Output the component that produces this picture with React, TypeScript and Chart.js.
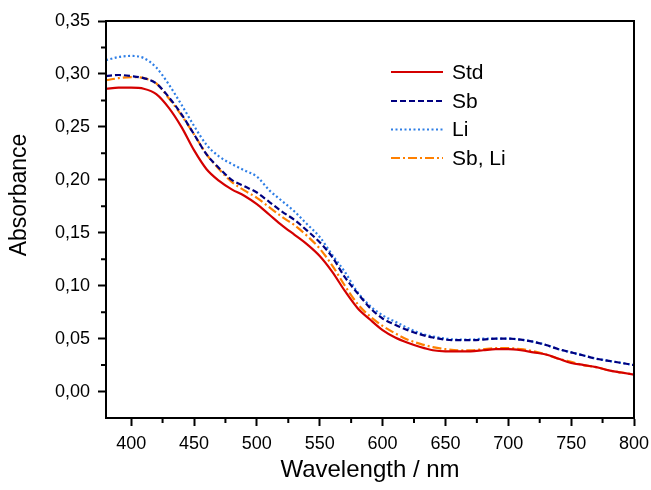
import React, { useEffect, useRef } from "react";
import { Chart, registerables } from "chart.js";

Chart.register(...registerables);

const wavelengths = [380, 390, 400, 410, 420, 430, 440, 450, 460, 470, 480, 490, 500, 510, 520, 530, 540, 550, 560, 570, 580, 590, 600, 610, 620, 630, 640, 650, 660, 670, 680, 690, 700, 710, 720, 730, 740, 750, 760, 770, 780, 790, 800];

const stdValues = [0.286, 0.287, 0.287, 0.286, 0.281, 0.268, 0.250, 0.228, 0.210, 0.199, 0.191, 0.185, 0.177, 0.167, 0.157, 0.148, 0.139, 0.128, 0.113, 0.095, 0.079, 0.068, 0.058, 0.051, 0.046, 0.042, 0.039, 0.038, 0.038, 0.038, 0.039, 0.040, 0.040, 0.039, 0.037, 0.035, 0.031, 0.027, 0.025, 0.023, 0.020, 0.018, 0.016];
const sbValues = [0.298, 0.299, 0.298, 0.296, 0.291, 0.278, 0.262, 0.243, 0.224, 0.211, 0.200, 0.194, 0.188, 0.179, 0.170, 0.162, 0.152, 0.141, 0.127, 0.108, 0.093, 0.079, 0.069, 0.063, 0.058, 0.054, 0.051, 0.049, 0.0485, 0.0485, 0.049, 0.050, 0.050, 0.049, 0.047, 0.044, 0.040, 0.037, 0.034, 0.031, 0.029, 0.027, 0.025];
const liValues = [0.313, 0.316, 0.317, 0.315, 0.306, 0.290, 0.271, 0.251, 0.233, 0.222, 0.215, 0.209, 0.203, 0.190, 0.180, 0.170, 0.158, 0.146, 0.129, 0.113, 0.094, 0.081, 0.072, 0.066, 0.060, 0.055, 0.052, 0.050, 0.049, 0.049, 0.050, 0.050, 0.050, 0.049, 0.047, 0.044, 0.040, 0.037, 0.034, 0.031, 0.029, 0.027, 0.025];
const sbLiValues = [0.294, 0.296, 0.297, 0.296, 0.291, 0.277, 0.261, 0.243, 0.224, 0.210, 0.198, 0.190, 0.183, 0.174, 0.165, 0.157, 0.147, 0.135, 0.119, 0.100, 0.083, 0.071, 0.062, 0.055, 0.049, 0.045, 0.042, 0.040, 0.039, 0.039, 0.040, 0.041, 0.041, 0.040, 0.038, 0.035, 0.031, 0.028, 0.025, 0.023, 0.020, 0.018, 0.016];

const seriesNames = ["Std", "Sb", "Li", "Sb, Li"];
const xTicks = [400, 450, 500, 550, 600, 650, 700, 750, 800];
const xMinorTicks = [425, 475, 525, 575, 625, 675, 725, 775];
const yTicks = [0.0, 0.05, 0.1, 0.15, 0.2, 0.25, 0.3, 0.35];
const yMinorTicks = [0.025, 0.075, 0.125, 0.175, 0.225, 0.275, 0.325];
const xTitle = "Wavelength / nm";
const yTitle = "Absorbance";

const FONT = "'Liberation Sans', Arial, sans-serif";

const colors = ["#d40000", "#000080", "#2f7fe6", "#ff8000"];
const dashes = [[], [6, 3], [2, 2.5], [9, 3, 2, 3]];

const framePlugin = {
  id: "frameAndLegend",
  afterDraw(chart: any) {
    const ctx = chart.ctx;
    const { left, right, top, bottom } = chart.chartArea;
    const xs = chart.scales.x;
    const ys = chart.scales.y;
    ctx.save();
    ctx.strokeStyle = "#000";
    ctx.lineWidth = 2;
    ctx.setLineDash([]);
    ctx.strokeRect(left, top, right - left, bottom - top);
    // minor ticks
    ctx.beginPath();
    xMinorTicks.forEach((v) => {
      const px = xs.getPixelForValue(v);
      ctx.moveTo(px, bottom);
      ctx.lineTo(px, bottom + 5);
    });
    yMinorTicks.forEach((v) => {
      const py = ys.getPixelForValue(v);
      ctx.moveTo(left, py);
      ctx.lineTo(left - 5, py);
    });
    ctx.stroke();
    // y title
    ctx.save();
    ctx.translate(20, 195);
    ctx.rotate(-Math.PI / 2);
    ctx.fillStyle = "#000";
    ctx.font = `23px ${FONT}`;
    ctx.textAlign = "center";
    ctx.textBaseline = "middle";
    ctx.fillText(yTitle, 0, 0);
    ctx.restore();
    // legend
    const rows = [72, 101, 129.5, 158];
    chart.data.datasets.forEach((ds: any, i: number) => {
      const y = rows[i];
      ctx.beginPath();
      ctx.strokeStyle = ds.borderColor;
      ctx.lineWidth = 2.2;
      ctx.setLineDash(ds.borderDash || []);
      ctx.moveTo(391, y);
      ctx.lineTo(443, y);
      ctx.stroke();
      ctx.setLineDash([]);
      ctx.fillStyle = "#000";
      ctx.font = `21px ${FONT}`;
      ctx.textBaseline = "middle";
      ctx.textAlign = "left";
      ctx.fillText(ds.label, 452, y + 1);
    });
    ctx.restore();
  },
};

export default function App() {
  const ref = useRef<HTMLCanvasElement>(null);
  useEffect(() => {
    if (!ref.current) return;
    const allValues = [stdValues, sbValues, liValues, sbLiValues];
    const chart = new Chart(ref.current, {
      type: "line",
      data: {
        datasets: allValues.map((vals, i) => ({
          label: seriesNames[i],
          data: wavelengths.map((w, j) => ({ x: w, y: vals[j] })),
          borderColor: colors[i],
          backgroundColor: colors[i],
          borderDash: dashes[i],
          borderWidth: 2.2,
          pointRadius: 0,
          fill: false,
          cubicInterpolationMode: "monotone" as const,
        })),
      },
      options: {
        animation: false,
        responsive: false,
        layout: { padding: { top: 21, right: 17, left: 0, bottom: 0 } },
        plugins: { legend: { display: false }, tooltip: { enabled: false } },
        scales: {
          x: {
            type: "linear",
            min: 380,
            max: 800,
            afterBuildTicks: (s: any) => {
              s.ticks = xTicks.map((v) => ({ value: v }));
            },
            afterFit: (s: any) => {
              s.height = 72;
              s.paddingLeft = 0;
              s.paddingRight = 0;
            },
            grid: { drawOnChartArea: false, drawTicks: true, tickLength: 8, tickColor: "#000", tickWidth: 2 },
            border: { display: true, color: "#000", width: 2 },
            ticks: { color: "#000", font: { family: FONT, size: 18 }, padding: 7, maxRotation: 0 },
            title: { display: true, text: xTitle, color: "#000", font: { family: FONT, size: 24 }, padding: { top: 0, bottom: 5 } },
          },
          y: {
            type: "linear",
            min: -0.025,
            max: 0.35,
            afterBuildTicks: (s: any) => {
              s.ticks = yTicks.map((v) => ({ value: v }));
            },
            afterFit: (s: any) => {
              s.width = 106;
              s.paddingTop = 0;
              s.paddingBottom = 0;
            },
            grid: { drawOnChartArea: false, drawTicks: true, tickLength: 8, tickColor: "#000", tickWidth: 2 },
            border: { display: true, color: "#000", width: 2 },
            ticks: {
              color: "#000",
              font: { family: FONT, size: 18 },
              padding: 8,
              callback: (v: any) => Number(v).toFixed(2).replace(".", ","),
            },
            title: { display: false },
          },
        },
      },
      plugins: [framePlugin],
    });
    return () => chart.destroy();
  }, []);
  return (
    <div style={{ position: "absolute", left: 0, top: 0, width: 651, height: 490, background: "#fff" }}>
      <canvas ref={ref} width={651} height={490} />
    </div>
  );
}
